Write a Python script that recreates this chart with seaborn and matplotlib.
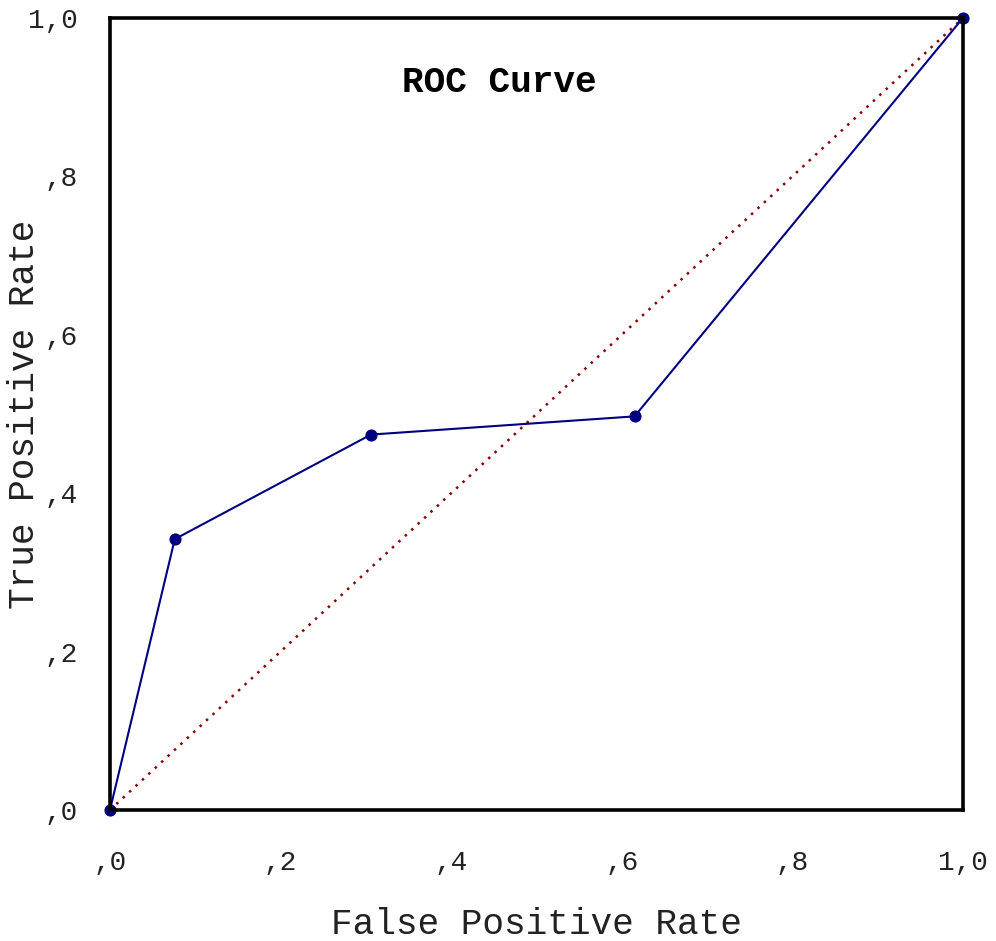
import matplotlib
matplotlib.use("Agg")
import matplotlib.pyplot as plt
import seaborn as sns
import pandas as pd

fpr = [0.0, 0.076, 0.306, 0.615, 1.0]
tpr = [0.0, 0.342, 0.474, 0.497, 1.0]
diag = [0.0, 1.0]
tick_vals = [0.0, 0.2, 0.4, 0.6, 0.8, 1.0]
tick_labels = [",0", ",2", ",4", ",6", ",8", "1,0"]

sns.set_theme(style="white")
plt.rcParams['font.family'] = ['Liberation Mono', 'DejaVu Sans Mono']

fig = plt.figure(figsize=(9.96, 9.41), dpi=100)
ax = fig.add_axes([0.1104, 0.1392, 0.8564, 0.8417])

df = pd.DataFrame({"fpr": fpr, "tpr": tpr})
sns.lineplot(x=diag, y=diag, ax=ax, color="#8B0000", linewidth=1.8,
             linestyle=(0, (1, 2.5)), sort=False)
sns.lineplot(data=df, x="fpr", y="tpr", ax=ax, color="#000080", linewidth=1.5,
             marker="o", markersize=8, markeredgecolor="#000080", sort=False)
for line in ax.lines:
    line.set_clip_on(False)

ax.set_xlim(0, 1)
ax.set_ylim(0, 1)
ax.set_xticks(tick_vals)
ax.set_xticklabels(tick_labels)
ax.set_yticks(tick_vals)
ax.set_yticklabels(tick_labels)
ax.tick_params(axis="x", direction="out", length=5, width=1.2, color="black",
               pad=24, labelsize=20, labelcolor="#222222")
ax.tick_params(axis="y", direction="out", length=5, width=1.2, color="black",
               pad=18, labelsize=20, labelcolor="#222222")
for s in ax.spines.values():
    s.set_visible(True)
    s.set_color("black")
    s.set_linewidth(2.6)

ax.set_xlabel("False Positive Rate", fontsize=26, labelpad=22, color="#222222")
ax.set_ylabel("True Positive Rate", fontsize=26, color="#222222")
ax.yaxis.label.set_verticalalignment("center")
ax.yaxis.set_label_coords(-0.1, 0.5)
ax.text(0.456, 0.918, "ROC Curve", transform=ax.transAxes, fontsize=26,
        fontweight="bold", ha="center", va="center", color="black")

fig.savefig("out.png", dpi=100)
